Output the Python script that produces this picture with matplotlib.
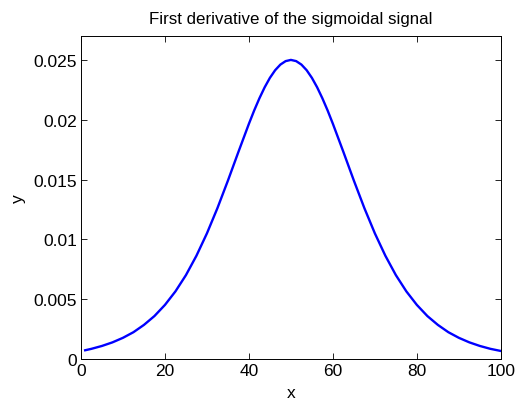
import matplotlib
matplotlib.use('Agg')
import matplotlib.pyplot as plt
from matplotlib.ticker import FormatStrFormatter

# values
x = [1, 2.5, 5, 7.5, 10, 12.5, 15, 17.5, 20, 22.5, 25, 27.5, 30, 32.5, 35, 37.5,
     40, 41.25, 42.5, 43.75, 45, 46.25, 47.5, 48.75, 50, 51.25, 52.5, 53.75, 55,
     56.25, 57.5, 58.75, 60, 62.5, 65, 67.5, 70, 72.5, 75,
     77.5, 80, 82.5, 85, 87.5, 90, 92.5, 95, 97.5, 100]
y = [0.00073, 0.00085, 0.00109, 0.00139, 0.00177, 0.00224, 0.00285, 0.00359,
     0.00452, 0.00565, 0.00701, 0.00863, 0.01050, 0.01261, 0.01491, 0.01731,
     0.01966, 0.02077, 0.02179, 0.02271, 0.02350, 0.02414, 0.02461, 0.02490,
     0.02500, 0.02490, 0.02461, 0.02414, 0.02350, 0.02271, 0.02179, 0.02077,
     0.01966, 0.01731, 0.01491, 0.01261, 0.01050, 0.00863, 0.00701, 0.00565,
     0.00452, 0.00359, 0.00285, 0.00224, 0.00177, 0.00139, 0.00109, 0.00085,
     0.00067]
x_ticks = [0, 20, 40, 60, 80, 100]
y_ticks = [0, 0.005, 0.01, 0.015, 0.02, 0.025]

plt.rcParams['font.family'] = ['Liberation Sans', 'DejaVu Sans']
plt.rcParams['font.size'] = 12

fig = plt.figure(figsize=(5.19, 4.02), dpi=100)
ax = fig.add_axes([0.156, 0.1045, 0.809, 0.8035])
ax.plot(x, y, color='#0000ff', linewidth=1.7)

ax.set_xlim(0, 100)
ax.set_ylim(0, 0.027)
ax.set_xticks(x_ticks)
ax.set_yticks(y_ticks)
ax.yaxis.set_major_formatter(FormatStrFormatter('%g'))
ax.tick_params(direction='in', top=True, right=True, length=4, width=0.6,
               labelsize=12.5, pad=3)
for s in ax.spines.values():
    s.set_linewidth(0.7)

ax.set_title('First derivative of the sigmoidal signal', fontsize=12.2, pad=9)
ax.set_xlabel('x', fontsize=12.5, labelpad=5)
ax.set_ylabel('y', fontsize=12.5, labelpad=5)

fig.savefig('out.png', dpi=100)
